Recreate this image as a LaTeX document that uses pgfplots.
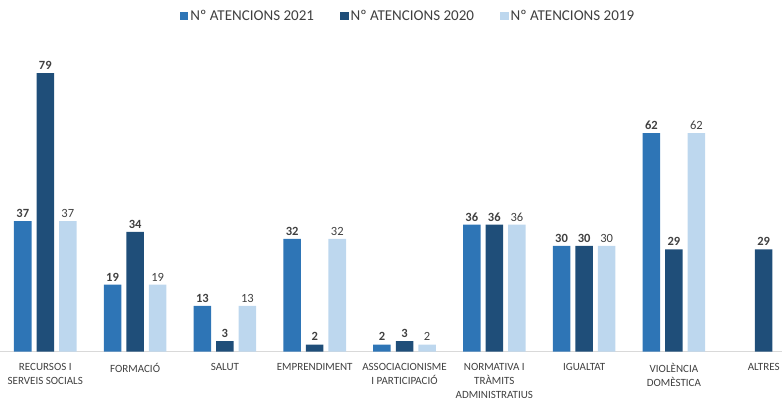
\documentclass[border=0pt]{standalone}
\usepackage{pgfplots}
\pgfplotsset{compat=1.18}
\usepackage{fontspec}
\setmainfont{Carlito}
\definecolor{cA}{HTML}{2E75B6}
\definecolor{cB}{HTML}{1F4E79}
\definecolor{cC}{HTML}{BDD7EE}
\definecolor{txt}{HTML}{404040}
\begin{document}
\begin{tikzpicture}
\begin{axis}[
  scale only axis,
  width=780pt, height=299pt,
  xmin=-0.5, xmax=8.2,
  ymin=0, ymax=85,
  ybar=5pt, bar width=17.5pt,
  /pgf/number format/assume math mode=true,
  axis y line=none,
  axis x line*=bottom,
  x axis line style={draw=black!15, line width=0.8pt},
  xtick={0,...,8}, major tick length=0pt,
  xticklabels={{RECURSOS I\\SERVEIS SOCIALS},{FORMACIÓ},{SALUT},{EMPRENDIMENT},{ASSOCIACIONISME\\I PARTICIPACIÓ},{NORMATIVA I\\TRÀMITS\\ADMINISTRATIUS},{IGUALTAT},{VIOLÈNCIA\\DOMÈSTICA},{ALTRES}},
  xticklabel style={align=center, font=\fontsize{11}{14}\selectfont, text=txt, yshift=-8pt},
  nodes near coords,
  nodes near coords style={font=\fontsize{12.5}{14}\selectfont\bfseries, text=txt},
  legend style={at={(0.5,1)}, anchor=center, yshift=36pt, xshift=17pt, draw=none, legend columns=-1,
    font=\fontsize{15}{16}\selectfont, text=txt,
    /tikz/every even column/.append style={column sep=24pt}},
  legend image code/.code={\fill[#1] (0pt,-4pt) rectangle (8.5pt,4.5pt);},
  clip=false,
]
\addplot[fill=cA, draw=none] coordinates {(0,37) (1,19) (2,13) (3,32) (4,2) (5,36) (6,30) (7,62)};
\addplot[fill=cB, draw=none] coordinates {(0,79) (1,34) (2,3) (3,2) (4,3) (5,36) (6,30) (7,29) (8,29)};
\addplot[fill=cC, draw=none, nodes near coords style={font=\fontsize{12.5}{14}\selectfont}] coordinates {(0,37) (1,19) (2,13) (3,32) (4,2) (5,36) (6,30) (7,62)};
\legend{Nº ATENCIONS 2021, Nº ATENCIONS 2020, Nº ATENCIONS 2019}
\end{axis}
\path (current axis.north) ++(0,52pt);
\path (current axis.south) ++(0,-52pt);
\end{tikzpicture}
\end{document}
